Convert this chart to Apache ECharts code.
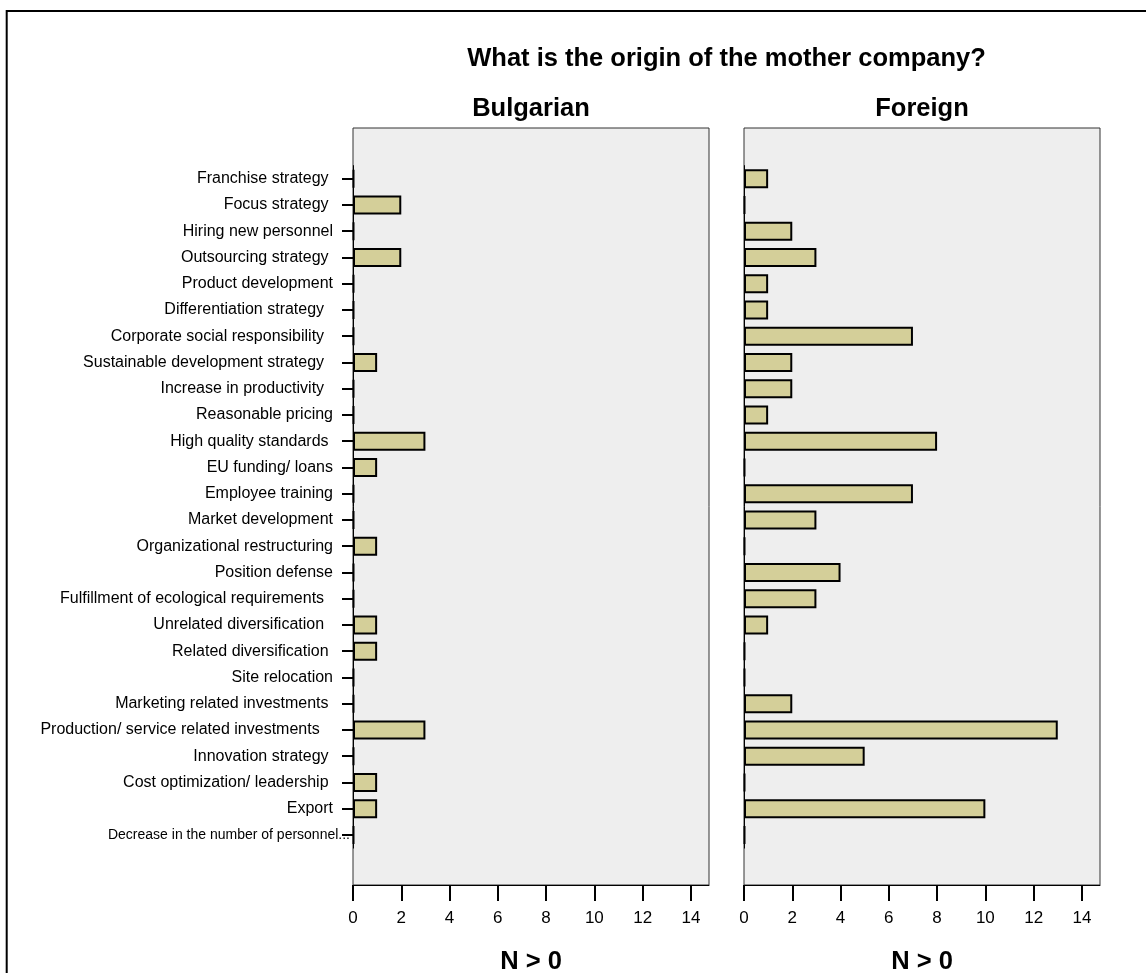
<!DOCTYPE html>
<html>
<head>
<meta charset="utf-8">
<script src="https://cdn.jsdelivr.net/npm/echarts@6/dist/echarts.min.js"></script>
<style>
html,body{margin:0;padding:0;background:#fff;}
#chart{width:1146px;height:973px;}
</style>
</head>
<body>
<div id="chart"></div>
<script>
// ---------- data ----------
const categories = [
  'Franchise strategy ',
  'Focus strategy ',
  'Hiring new personnel',
  'Outsourcing strategy ',
  'Product development',
  'Differentiation strategy  ',
  'Corporate social responsibility  ',
  'Sustainable development strategy  ',
  'Increase in productivity  ',
  'Reasonable pricing',
  'High quality standards ',
  'EU funding/ loans',
  'Employee training',
  'Market development',
  'Organizational restructuring',
  'Position defense',
  'Fulfillment of ecological requirements  ',
  'Unrelated diversification  ',
  'Related diversification ',
  'Site relocation',
  'Marketing related investments ',
  'Production/ service related investments   ',
  'Innovation strategy ',
  'Cost optimization/ leadership ',
  'Export',
  'Decrease in the number of personnel...'
];
const bulgarian = [0,2,0,2,0,0,0,1,0,0,3,1,0,0,1,0,0,1,1,0,0,3,0,1,1,0];
const foreign   = [1,0,2,3,1,1,7,2,2,1,8,0,7,3,0,4,3,1,0,0,2,13,5,0,10,0];
const xTicks = [0,2,4,6,8,10,12,14];
const panelTitles = ['Bulgarian','Foreign'];
const mainTitle = 'What is the origin of the mother company?';
const axisTitle = 'N > 0';

// ---------- chart ----------
const FONT = '"Liberation Sans", Arial, sans-serif';
const XMAX = 14.75;
const chart = echarts.init(document.getElementById('chart'), null, {renderer:'canvas'});

const yData = categories.map((c, i) => i === categories.length - 1
  ? {value: c, textStyle: {fontSize: 14, padding: [0, -17, 0, 0]}}
  : c);

function boxGrid(left) {
  return {left: left, width: 356, top: 128, height: 757, show: true,
    backgroundColor: '#eeeeee', borderColor: '#333', borderWidth: 1, containLabel: false};
}
function barGrid(left) {
  return {left: left, width: 356, top: 165.6, height: 682.5, show: false, containLabel: false};
}
function visibleX(grid) {
  return {type: 'value', gridIndex: grid, min: 0, max: XMAX,
    axisLine: {show: true, lineStyle: {color: '#000', width: 1}},
    axisTick: {show: true, length: 16, lineStyle: {color: '#000', width: 2}, customValues: xTicks},
    axisLabel: {show: true, fontSize: 17, color: '#000', fontFamily: FONT, margin: 25, customValues: xTicks},
    splitLine: {show: false}};
}
function hiddenX(grid) {
  return {type: 'value', gridIndex: grid, min: 0, max: XMAX, show: false, splitLine: {show: false}};
}
function barSeries(data, xi) {
  return {type: 'bar', xAxisIndex: xi, yAxisIndex: xi, data: data, barWidth: 19, barMinHeight: 1,
    itemStyle: {color: '#d4cf99', borderColor: '#000', borderWidth: 2},
    emphasis: {disabled: true}, animation: false};
}

chart.setOption({
  animation: false,
  backgroundColor: '#ffffff',
  textStyle: {fontFamily: FONT},
  grid: [boxGrid(353), barGrid(353), boxGrid(744), barGrid(744)],
  xAxis: [visibleX(0), hiddenX(1), visibleX(2), hiddenX(3)],
  yAxis: [
    {type: 'value', gridIndex: 0, show: false, splitLine: {show: false}},
    {type: 'category', gridIndex: 1, inverse: true, data: yData,
      axisLine: {show: true, lineStyle: {color: '#000', width: 1}},
      axisTick: {show: true, alignWithLabel: true, length: 11, lineStyle: {color: '#000', width: 2}},
      axisLabel: {show: true, fontSize: 16, color: '#000', fontFamily: FONT, margin: 20, interval: 0,
        padding: [3, 0, 0, 0]}},
    {type: 'value', gridIndex: 2, show: false, splitLine: {show: false}},
    {type: 'category', gridIndex: 3, inverse: true, data: categories,
      axisLine: {show: true, lineStyle: {color: '#000', width: 1}},
      axisTick: {show: false}, axisLabel: {show: false}}
  ],
  series: [barSeries(bulgarian, 1), barSeries(foreign, 3)],
  graphic: [
    {type: 'rect', silent: true, shape: {x: 6.7, y: 11, width: 1300, height: 1200},
      style: {fill: 'none', stroke: '#000', lineWidth: 2}},
    {type: 'text', x: 726.5, y: 58.5, style: {text: mainTitle, font: 'bold 25.5px ' + FONT,
      fill: '#000', align: 'center', verticalAlign: 'middle'}},
    {type: 'text', x: 531, y: 109, style: {text: panelTitles[0], font: 'bold 25.5px ' + FONT,
      fill: '#000', align: 'center', verticalAlign: 'middle'}},
    {type: 'text', x: 922, y: 109, style: {text: panelTitles[1], font: 'bold 25.5px ' + FONT,
      fill: '#000', align: 'center', verticalAlign: 'middle'}},
    {type: 'text', x: 531, y: 962, style: {text: axisTitle, font: 'bold 25.5px ' + FONT,
      fill: '#000', align: 'center', verticalAlign: 'middle'}},
    {type: 'text', x: 922, y: 962, style: {text: axisTitle, font: 'bold 25.5px ' + FONT,
      fill: '#000', align: 'center', verticalAlign: 'middle'}}
  ]
});
</script>
</body>
</html>
